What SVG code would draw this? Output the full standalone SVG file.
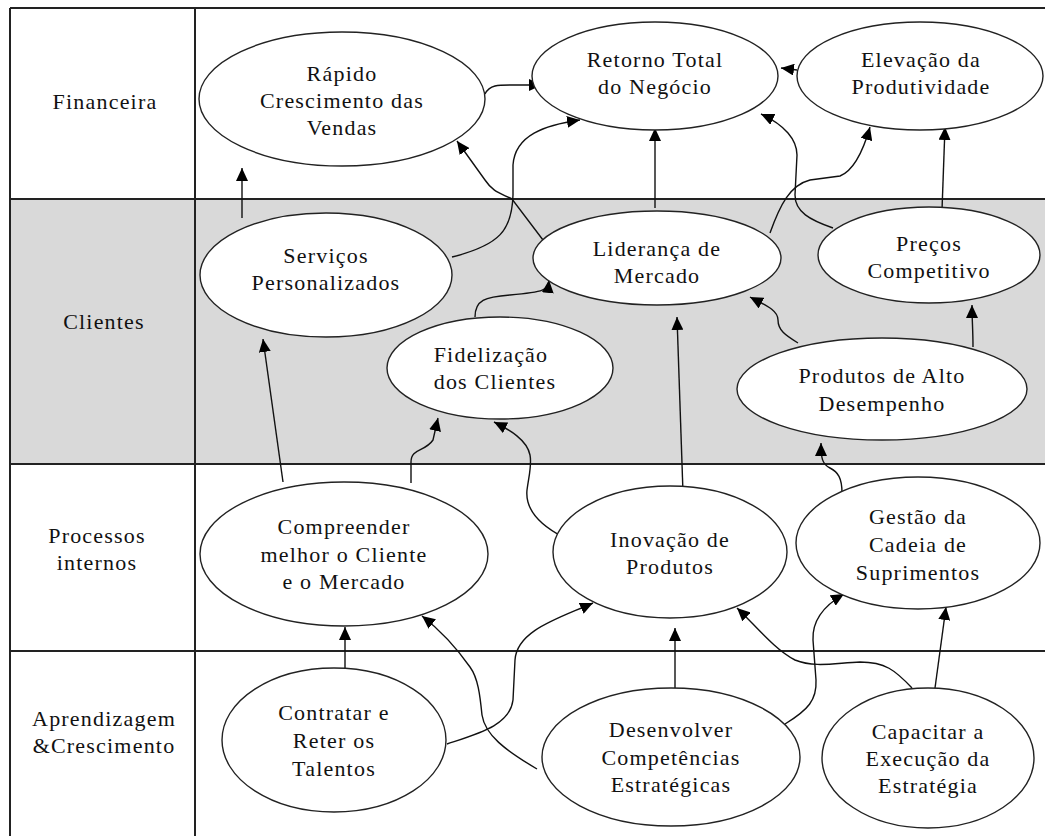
<svg xmlns="http://www.w3.org/2000/svg" width="1045" height="836" viewBox="0 0 1045 836" font-family="Liberation Serif, DejaVu Serif, serif">
  <defs>
    <style>
      .grid { stroke: #222; stroke-width: 2; fill: none; }
      .node ellipse { fill: #fff; stroke: #222; stroke-width: 1.4; }
      text { font-size: 22px; fill: #111; text-anchor: middle; letter-spacing: 1.2px; }
      .edge { fill: none; stroke: #111; stroke-width: 1.4; marker-end: url(#arrow); }
    </style>
    <marker id="arrow" markerUnits="userSpaceOnUse" markerWidth="13" markerHeight="12" refX="13" refY="6" orient="auto">
      <path d="M0,0 L13,6 L0,12 z" fill="#000"/>
    </marker>
  </defs>

  <!-- background and perspective rows -->
  <rect x="0" y="0" width="1045" height="836" fill="#fff"/>
  <rect x="10" y="199" width="1035" height="265" fill="#d9d9d9"/>
  <g id="grid" class="grid">
    <line x1="10" y1="8" x2="1045" y2="8"/>
    <line x1="10" y1="199" x2="1045" y2="199"/>
    <line x1="10" y1="464" x2="1045" y2="464"/>
    <line x1="10" y1="651" x2="1045" y2="651"/>
    <line x1="10" y1="8" x2="10" y2="836"/>
    <line x1="195" y1="8" x2="195" y2="836"/>
  </g>

  <!-- row labels -->
  <g id="labels" font-family="Liberation Serif">
    <text x="105" y="109">Financeira</text>
    <text x="104" y="329">Clientes</text>
    <text x="97" y="543">Processos</text>
    <text x="97" y="570">internos</text>
    <text x="104" y="726">Aprendizagem</text>
    <text x="104" y="753">&amp;Crescimento</text>
  </g>

  <!-- connectors -->
  <g id="connectors">
    <path class="edge" d="M242,218 L242,168"/>
    <path class="edge" d="M485,94 C490,84 500,85 515,85 L542,85"/>
    <path class="edge" d="M452,257 C500,245 512,230 513,195 L513,165 C515,135 545,125 580,120"/>
    <path class="edge" d="M543,240 L512,199 C500,193 493,192 485,180 L457,141"/>
    <path class="edge" d="M655,208 L655,128"/>
    <path class="edge" d="M797,70 L781,68"/>
    <path class="edge" d="M833,228 C810,220 795,212 795,195 L797,155 C797,140 785,125 761,114"/>
    <path class="edge" d="M770,233 C780,205 790,185 810,180 L840,176 C855,170 864,148 870,127"/>
    <path class="edge" d="M942,210 L945,127"/>
    <path class="edge" d="M475,317 C475,300 485,297 510,295 C545,292 548,290 549,280"/>
    <path class="edge" d="M683,493 L677,317"/>
    <path class="edge" d="M798,343 C785,335 778,330 778,320 C778,310 765,305 750,297"/>
    <path class="edge" d="M973,347 C973,330 972,320 972,305"/>
    <path class="edge" d="M283,482 L263,339"/>
    <path class="edge" d="M411,483 L411,462 C411,448 425,452 433,440 L438,418"/>
    <path class="edge" d="M563,537 C540,525 525,510 527,490 C529,475 532,465 530,455 C527,440 510,430 494,422"/>
    <path class="edge" d="M842,493 C842,478 838,472 830,468 C822,464 821,458 821,443"/>
    <path class="edge" d="M345,668 L345,627"/>
    <path class="edge" d="M447,744 C480,733 510,725 513,700 L515,660 C517,630 560,618 593,603"/>
    <path class="edge" d="M537,769 C505,750 485,735 482,715 C480,695 478,678 470,667 C458,650 440,630 422,616"/>
    <path class="edge" d="M675,688 L675,628"/>
    <path class="edge" d="M785,724 C808,710 817,700 816,680 L813,640 C812,620 825,605 844,594"/>
    <path class="edge" d="M912,688 C895,670 885,662 860,662 C835,663 815,668 795,660 C775,650 755,625 737,608"/>
    <path class="edge" d="M935,688 L946,607"/>
  </g>

  <!-- Financeira -->
  <g id="rapido-crescimento" class="node">
    <ellipse cx="342" cy="99" rx="143" ry="67"/>
    <text x="342" y="81">Rápido</text>
    <text x="342" y="108">Crescimento das</text>
    <text x="342" y="135">Vendas</text>
  </g>
  <g id="retorno-total" class="node">
    <ellipse cx="655" cy="76" rx="123" ry="54"/>
    <text x="655" y="67">Retorno Total</text>
    <text x="655" y="94">do Negócio</text>
  </g>
  <g id="elevacao-produtividade" class="node">
    <ellipse cx="920" cy="76" rx="123" ry="54"/>
    <text x="921" y="67">Elevação da</text>
    <text x="921" y="94">Produtividade</text>
  </g>

  <!-- Clientes -->
  <g id="servicos-personalizados" class="node">
    <ellipse cx="326" cy="275" rx="126" ry="62"/>
    <text x="326" y="263">Serviços</text>
    <text x="326" y="290">Personalizados</text>
  </g>
  <g id="lideranca-mercado" class="node">
    <ellipse cx="657" cy="258" rx="124" ry="47"/>
    <text x="657" y="256">Liderança de</text>
    <text x="657" y="283">Mercado</text>
  </g>
  <g id="precos-competitivo" class="node">
    <ellipse cx="929" cy="255" rx="111" ry="48"/>
    <text x="929" y="251">Preços</text>
    <text x="929" y="278">Competitivo</text>
  </g>
  <g id="fidelizacao-clientes" class="node">
    <ellipse cx="500" cy="368" rx="113" ry="51"/>
    <text x="491" y="362">Fidelização</text>
    <text x="495" y="389">dos Clientes</text>
  </g>
  <g id="produtos-alto-desempenho" class="node">
    <ellipse cx="882" cy="389" rx="145" ry="51"/>
    <text x="882" y="383">Produtos de Alto</text>
    <text x="882" y="411">Desempenho</text>
  </g>

  <!-- Processos internos -->
  <g id="compreender-cliente" class="node">
    <ellipse cx="344" cy="554" rx="144" ry="72"/>
    <text x="344" y="534">Compreender</text>
    <text x="344" y="562">melhor o Cliente</text>
    <text x="344" y="589">e o Mercado</text>
  </g>
  <g id="inovacao-produtos" class="node">
    <ellipse cx="670" cy="552" rx="117" ry="66"/>
    <text x="670" y="547">Inovação de</text>
    <text x="670" y="574">Produtos</text>
  </g>
  <g id="gestao-cadeia" class="node">
    <ellipse cx="918" cy="543" rx="122" ry="66"/>
    <text x="918" y="524">Gestão da</text>
    <text x="918" y="552">Cadeia de</text>
    <text x="918" y="580">Suprimentos</text>
  </g>

  <!-- Aprendizagem & Crescimento -->
  <g id="contratar-talentos" class="node">
    <ellipse cx="334" cy="740" rx="112" ry="72"/>
    <text x="334" y="720">Contratar e</text>
    <text x="334" y="748">Reter os</text>
    <text x="334" y="776">Talentos</text>
  </g>
  <g id="desenvolver-competencias" class="node">
    <ellipse cx="671" cy="757" rx="129" ry="69"/>
    <text x="671" y="737">Desenvolver</text>
    <text x="671" y="765">Competências</text>
    <text x="671" y="792">Estratégicas</text>
  </g>
  <g id="capacitar-execucao" class="node">
    <ellipse cx="928" cy="758" rx="106" ry="70"/>
    <text x="928" y="739">Capacitar a</text>
    <text x="928" y="766">Execução da</text>
    <text x="928" y="793">Estratégia</text>
  </g>
</svg>
